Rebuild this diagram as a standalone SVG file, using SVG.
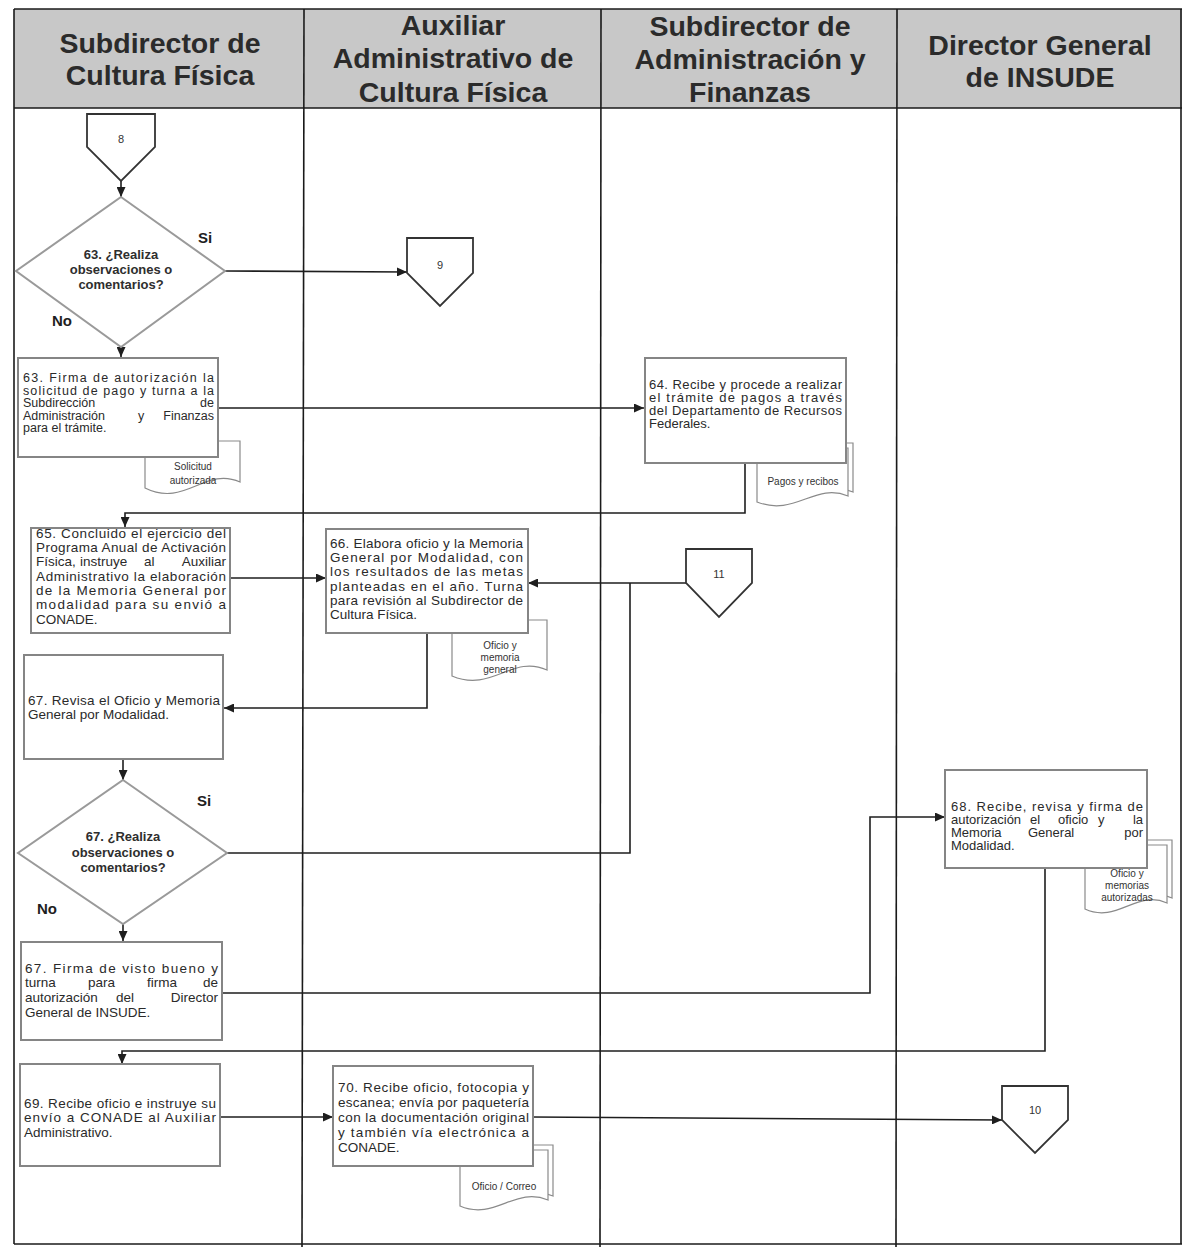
<svg xmlns="http://www.w3.org/2000/svg" width="1182" height="1247" viewBox="0 0 1182 1247">
  <style>
    .frame { stroke: #1a1a1a; stroke-width: 1.6; fill: none; }
    .hdr { font-family: "Liberation Sans", Arial, sans-serif; font-weight: bold; font-size: 28.5px; fill: #2b2b2b; text-anchor: middle; }
    .box { fill: #fff; stroke: #858585; stroke-width: 2; }
    .dia { fill: #fff; stroke: #9a9a9a; stroke-width: 2; }
    .off { fill: #fff; stroke: #333; stroke-width: 1.8; }
    .doc { fill: #fff; stroke: #8a8a8a; stroke-width: 1.2; }
    .t { font-family: "Liberation Sans", Arial, sans-serif; font-size: 13px; fill: #2a2a2a; }
    .t12 { font-family: "Liberation Sans", Arial, sans-serif; font-size: 12.5px; fill: #2a2a2a; }
    .t13 { font-family: "Liberation Sans", Arial, sans-serif; font-size: 13.5px; fill: #2a2a2a; }
    .dt { font-family: "Liberation Sans", Arial, sans-serif; font-weight: bold; font-size: 13px; fill: #2e2e2e; text-anchor: middle; }
    .lbl { font-family: "Liberation Sans", Arial, sans-serif; font-weight: bold; font-size: 15px; fill: #1e1e1e; }
    .num { font-family: "Liberation Sans", Arial, sans-serif; font-size: 11px; fill: #333; text-anchor: middle; }
    .dc { font-family: "Liberation Sans", Arial, sans-serif; font-size: 10px; fill: #333; text-anchor: middle; }
    .e { text-anchor: end; }
    .m { text-anchor: middle; }
    .ln { fill: none; stroke: #1e1e1e; stroke-width: 1.6; }
  </style>
  <defs>
    <marker id="arr" markerUnits="userSpaceOnUse" markerWidth="11" markerHeight="9" refX="10" refY="4.5" orient="auto">
      <path d="M0,0 L10,4.5 L0,9 z" fill="#1e1e1e"/>
    </marker>
  </defs>

  <rect width="1182" height="1247" fill="#fff"/>

  <!-- swimlane frame and header band -->
  <g id="lanes">
    <rect x="14" y="9" width="1168" height="99" fill="#c8c8c8"/>
    <line class="frame" x1="14" y1="9" x2="1182" y2="9"/>
    <line class="frame" x1="14" y1="108" x2="1182" y2="108"/>
    <line class="frame" x1="14" y1="9" x2="14" y2="1244"/>
    <line class="frame" x1="14" y1="1244" x2="1182" y2="1244"/>
    <line class="frame" x1="304" y1="9" x2="302" y2="1247"/>
    <line class="frame" x1="601" y1="9" x2="600" y2="1247"/>
    <line class="frame" x1="897" y1="9" x2="896" y2="1247"/>
    <line class="frame" x1="1181" y1="9" x2="1181" y2="1244"/>
    <text class="hdr" x="160" y="53">Subdirector de</text>
    <text class="hdr" x="160" y="85">Cultura Física</text>
    <text class="hdr" x="453" y="35">Auxiliar</text>
    <text class="hdr" x="453" y="68">Administrativo de</text>
    <text class="hdr" x="453" y="102">Cultura Física</text>
    <text class="hdr" x="750" y="36">Subdirector de</text>
    <text class="hdr" x="750" y="69">Administración y</text>
    <text class="hdr" x="750" y="102">Finanzas</text>
    <text class="hdr" x="1040" y="55">Director General</text>
    <text class="hdr" x="1040" y="87">de INSUDE</text>
  </g>

  <!-- documents (drawn first, partly behind the process boxes) -->
  <g id="doc-solicitud">
    <path class="doc" d="M145,441 H240 V482 C205,466 185,508 145,488 Z"/>
    <text class="dc" x="193" y="470">Solicitud</text>
    <text class="dc" x="193" y="484">autorizada</text>
  </g>
  <g id="doc-pagos">
    <path class="doc" d="M762,443 H853 V492 C820,478 800,513 762,498 Z"/>
    <path class="doc" d="M757,448 H848 V496 C815,482 795,517 757,502 Z"/>
    <text class="dc" x="803" y="485">Pagos y recibos</text>
  </g>
  <g id="doc-oficio-memoria">
    <path class="doc" d="M452,620 H547 V670 C512,654 492,693 452,676 Z"/>
    <text class="dc" x="500" y="649">Oficio y</text>
    <text class="dc" x="500" y="661">memoria</text>
    <text class="dc" x="500" y="673">general</text>
  </g>
  <g id="doc-oficio-memorias">
    <path class="doc" d="M1090,840 H1172 V898 C1142,884 1122,919 1090,904 Z"/>
    <path class="doc" d="M1085,845 H1167 V903 C1137,889 1117,924 1085,909 Z"/>
    <text class="dc" x="1127" y="877">Oficio y</text>
    <text class="dc" x="1127" y="889">memorias</text>
    <text class="dc" x="1127" y="901">autorizadas</text>
  </g>
  <g id="doc-oficio-correo">
    <path class="doc" d="M465,1145 H553 V1196 C520,1182 500,1217 465,1202 Z"/>
    <path class="doc" d="M460,1150 H548 V1200 C515,1186 495,1221 460,1206 Z"/>
    <text class="dc" x="504" y="1190">Oficio / Correo</text>
  </g>

  <!-- connectors -->
  <g id="connectors">
    <path class="ln" d="M121,181 V197" marker-end="url(#arr)"/>
    <path class="ln" d="M225,271 L407,272" marker-end="url(#arr)"/>
    <path class="ln" d="M121,347 V357" marker-end="url(#arr)"/>
    <path class="ln" d="M218,408 H644" marker-end="url(#arr)"/>
    <path class="ln" d="M745,463 V513 H125 V527" marker-end="url(#arr)"/>
    <path class="ln" d="M230,578 H326" marker-end="url(#arr)"/>
    <path class="ln" d="M686,583 H528" marker-end="url(#arr)"/>
    <path class="ln" d="M227,853 H630 V583"/>
    <path class="ln" d="M427,633 V708 H224" marker-end="url(#arr)"/>
    <path class="ln" d="M123,759 V780" marker-end="url(#arr)"/>
    <path class="ln" d="M123,924 V941" marker-end="url(#arr)"/>
    <path class="ln" d="M222,993 H870 V817 H945" marker-end="url(#arr)"/>
    <path class="ln" d="M1045,868 V1051 H122 V1064" marker-end="url(#arr)"/>
    <path class="ln" d="M220,1117 H333" marker-end="url(#arr)"/>
    <path class="ln" d="M532,1117 L1002,1120" marker-end="url(#arr)"/>
  </g>

  <!-- off-page connectors -->
  <g id="conn-8">
    <polygon class="off" points="87,114 155,114 155,147 121,181 87,147"/>
    <text class="num" x="121" y="143">8</text>
  </g>
  <g id="conn-9">
    <polygon class="off" points="407,238 473,238 473,273 440,306 407,273"/>
    <text class="num" x="440" y="269">9</text>
  </g>
  <g id="conn-11">
    <polygon class="off" points="686,549 752,549 752,583 719,617 686,583"/>
    <text class="num" x="719" y="578">11</text>
  </g>
  <g id="conn-10">
    <polygon class="off" points="1002,1086 1068,1086 1068,1120 1035,1153 1002,1120"/>
    <text class="num" x="1035" y="1114">10</text>
  </g>

  <!-- decision 63 -->
  <g id="dec-63">
    <polygon class="dia" points="121,197 225,271 121,347 16,271"/>
    <text class="dt" x="121" y="259">63. ¿Realiza</text>
    <text class="dt" x="121" y="274">observaciones o</text>
    <text class="dt" x="121" y="289">comentarios?</text>
    <text class="lbl" x="198" y="243">Si</text>
    <text class="lbl" x="52" y="326">No</text>
  </g>

  <!-- step 63 -->
  <g id="step-63">
    <rect class="box" x="18" y="358" width="200" height="99"/>
    <text class="t12" x="23" y="382" textLength="191" lengthAdjust="spacing">63. Firma de autorización la</text>
    <text class="t12" x="23" y="394.5" textLength="191" lengthAdjust="spacing">solicitud de pago y turna a la</text>
    <text class="t12" x="23" y="407">Subdirección</text>
    <text class="t12 e" x="214" y="407">de</text>
    <text class="t12" x="23" y="419.5">Administración</text>
    <text class="t12 m" x="141" y="419.5">y</text>
    <text class="t12 e" x="214" y="419.5">Finanzas</text>
    <text class="t12" x="23" y="432">para el trámite.</text>
  </g>

  <!-- step 64 -->
  <g id="step-64">
    <rect class="box" x="645" y="358" width="201" height="105"/>
    <text class="t" x="649" y="389" textLength="193" lengthAdjust="spacing">64. Recibe y procede a realizar</text>
    <text class="t" x="649" y="402" textLength="193" lengthAdjust="spacing">el trámite de pagos a través</text>
    <text class="t" x="649" y="415" textLength="193" lengthAdjust="spacing">del Departamento de Recursos</text>
    <text class="t" x="649" y="428">Federales.</text>
  </g>

  <!-- step 65 -->
  <g id="step-65">
    <rect class="box" x="31" y="528" width="199" height="105"/>
    <text class="t13" x="36" y="538" textLength="190" lengthAdjust="spacing">65. Concluido el ejercicio del</text>
    <text class="t13" x="36" y="552" textLength="190" lengthAdjust="spacing">Programa Anual de Activación</text>
    <text class="t13" x="36" y="566">Física,</text>
    <text class="t13" x="80" y="566">instruye</text>
    <text class="t13" x="144" y="566">al</text>
    <text class="t13 e" x="226" y="566">Auxiliar</text>
    <text class="t13" x="36" y="580.5" textLength="190" lengthAdjust="spacing">Administrativo la elaboración</text>
    <text class="t13" x="36" y="595" textLength="190" lengthAdjust="spacing">de la Memoria General por</text>
    <text class="t13" x="36" y="609" textLength="190" lengthAdjust="spacing">modalidad para su envió a</text>
    <text class="t13" x="36" y="623.5">CONADE.</text>
  </g>

  <!-- step 66 -->
  <g id="step-66">
    <rect class="box" x="326" y="529" width="202" height="104"/>
    <text class="t13" x="330" y="547.5" textLength="193" lengthAdjust="spacing">66. Elabora oficio y la Memoria</text>
    <text class="t13" x="330" y="561.5" textLength="193" lengthAdjust="spacing">General por Modalidad, con</text>
    <text class="t13" x="330" y="576" textLength="193" lengthAdjust="spacing">los resultados de las metas</text>
    <text class="t13" x="330" y="590.5" textLength="193" lengthAdjust="spacing">planteadas en el año. Turna</text>
    <text class="t13" x="330" y="604.5" textLength="193" lengthAdjust="spacing">para revisión al Subdirector de</text>
    <text class="t13" x="330" y="619">Cultura Física.</text>
  </g>

  <!-- step 67: review -->
  <g id="step-67-revisa">
    <rect class="box" x="24" y="655" width="199" height="104"/>
    <text class="t13" x="28" y="704.5" textLength="192" lengthAdjust="spacing">67. Revisa el Oficio y Memoria</text>
    <text class="t13" x="28" y="719">General por Modalidad.</text>
  </g>

  <!-- decision 67 -->
  <g id="dec-67">
    <polygon class="dia" points="123,780 227,853 123,924 18,853"/>
    <text class="dt" x="123" y="841">67. ¿Realiza</text>
    <text class="dt" x="123" y="857">observaciones o</text>
    <text class="dt" x="123" y="872">comentarios?</text>
    <text class="lbl" x="197" y="806">Si</text>
    <text class="lbl" x="37" y="914">No</text>
  </g>

  <!-- step 67: approval -->
  <g id="step-67-firma">
    <rect class="box" x="21" y="942" width="201" height="98"/>
    <text class="t13" x="25" y="972.5" textLength="193" lengthAdjust="spacing">67. Firma de visto bueno y</text>
    <text class="t13" x="25" y="987">turna</text>
    <text class="t13" x="88" y="987">para</text>
    <text class="t13" x="147" y="987">firma</text>
    <text class="t13 e" x="218" y="987">de</text>
    <text class="t13" x="25" y="1002">autorización</text>
    <text class="t13" x="116" y="1002">del</text>
    <text class="t13 e" x="218" y="1002">Director</text>
    <text class="t13" x="25" y="1016.5">General de INSUDE.</text>
  </g>

  <!-- step 68 -->
  <g id="step-68">
    <rect class="box" x="945" y="770" width="202" height="98"/>
    <text class="t" x="951" y="811" textLength="192" lengthAdjust="spacing">68. Recibe, revisa y firma de</text>
    <text class="t" x="951" y="824">autorización</text>
    <text class="t" x="1030" y="824">el</text>
    <text class="t" x="1058" y="824">oficio</text>
    <text class="t" x="1098" y="824">y</text>
    <text class="t e" x="1143" y="824">la</text>
    <text class="t" x="951" y="837">Memoria</text>
    <text class="t" x="1028" y="837">General</text>
    <text class="t e" x="1143" y="837">por</text>
    <text class="t" x="951" y="850">Modalidad.</text>
  </g>

  <!-- step 69 -->
  <g id="step-69">
    <rect class="box" x="20" y="1064" width="200" height="102"/>
    <text class="t13" x="24" y="1107.5" textLength="192" lengthAdjust="spacing">69. Recibe oficio e instruye su</text>
    <text class="t13" x="24" y="1122" textLength="192" lengthAdjust="spacing">envío a CONADE al Auxiliar</text>
    <text class="t13" x="24" y="1136.5">Administrativo.</text>
  </g>

  <!-- step 70 -->
  <g id="step-70">
    <rect class="box" x="333" y="1066" width="200" height="100"/>
    <text class="t13" x="338" y="1091.5" textLength="191" lengthAdjust="spacing">70. Recibe oficio, fotocopia y</text>
    <text class="t13" x="338" y="1107" textLength="191" lengthAdjust="spacing">escanea; envía por paquetería</text>
    <text class="t13" x="338" y="1122" textLength="191" lengthAdjust="spacing">con la documentación original</text>
    <text class="t13" x="338" y="1136.5" textLength="191" lengthAdjust="spacing">y también vía electrónica a</text>
    <text class="t13" x="338" y="1151.5">CONADE.</text>
  </g>
</svg>
